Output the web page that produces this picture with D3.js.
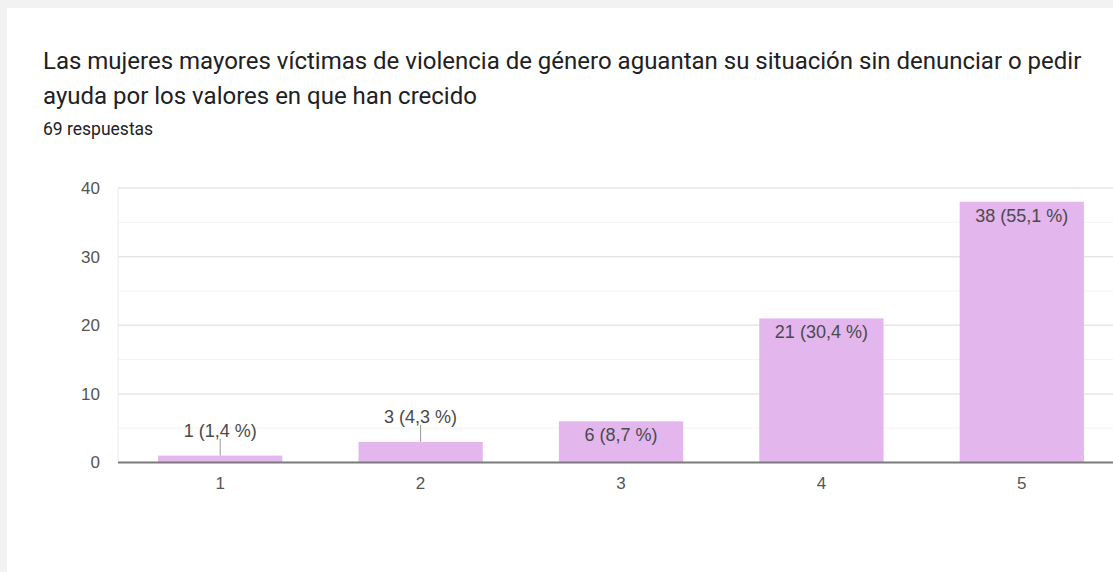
<!DOCTYPE html>
<html>
<head>
<meta charset="utf-8">
<script src="https://cdn.jsdelivr.net/npm/d3@7"></script>
<style>
  body { margin: 0; background: #f2f2f2; }
  svg { display: block; }
</style>
</head>
<body>
<svg width="1113" height="572"></svg>
<script>
const titleLines = [
  "Las mujeres mayores víctimas de violencia de género aguantan su situación sin denunciar o pedir",
  "ayuda por los valores en que han crecido"
];
const subtitle = "69 respuestas";
const categories = ["1", "2", "3", "4", "5"];
const counts = [1, 3, 6, 21, 38];
const percents = ["1,4", "4,3", "8,7", "30,4", "55,1"];
const yTicks = [0, 10, 20, 30, 40];
const minorTicks = [5, 15, 25, 35];

const svg = d3.select("svg");
const width = 1113;
const height = 572;

const data = categories.map((c, i) => ({ cat: c, value: counts[i], pct: percents[i] }));

// page background + white card
svg.append("rect").attr("width", width).attr("height", height).attr("fill", "#f2f2f2");
svg.append("rect").attr("x", 7).attr("y", 8).attr("width", width - 7).attr("height", height - 8).attr("fill", "#fff");

// title
const title = svg.append("text")
  .attr("font-family", "Roboto, sans-serif")
  .attr("font-size", "24px")
  .attr("fill", "#202124");
titleLines.forEach((line, i) => {
  title.append("tspan").attr("x", 43).attr("y", 69 + i * 35).text(line);
});

svg.append("text")
  .attr("x", 43)
  .attr("y", 135)
  .attr("font-family", "Roboto, sans-serif")
  .attr("font-size", "17.5px")
  .attr("fill", "#202124")
  .text(subtitle);

const plotLeft = 118;
const plotTop = 188;
const plotBottom = 462.5;

const x = d3.scaleBand()
  .domain(categories)
  .range([plotLeft, 1124])
  .paddingInner(0.38)
  .paddingOuter(0.2);

const y = d3.scaleLinear()
  .domain([0, 40])
  .range([plotBottom, plotTop]);

const chartFont = "'Liberation Sans', Arial, sans-serif";

// minor gridlines
svg.append("g").selectAll("line")
  .data(minorTicks)
  .join("line")
  .attr("x1", plotLeft).attr("x2", width)
  .attr("y1", d => y(d)).attr("y2", d => y(d))
  .attr("stroke", "#f3f3f3")
  .attr("stroke-width", 1);

// major gridlines
svg.append("g").selectAll("line")
  .data(yTicks.filter(d => d > 0))
  .join("line")
  .attr("x1", plotLeft).attr("x2", width)
  .attr("y1", d => y(d)).attr("y2", d => y(d))
  .attr("stroke", "#e6e6e6")
  .attr("stroke-width", 1.5);

// left border of the grid
svg.append("line")
  .attr("x1", plotLeft).attr("x2", plotLeft)
  .attr("y1", plotTop).attr("y2", plotBottom)
  .attr("stroke", "#ececec");

// y axis labels
const yAxis = svg.append("g")
  .attr("transform", `translate(${plotLeft - 18},0)`)
  .call(d3.axisLeft(y).tickValues(yTicks).tickSize(0).tickPadding(0));
yAxis.select(".domain").remove();
yAxis.selectAll("text")
  .attr("font-family", chartFont)
  .attr("font-size", "17px")
  .attr("fill", "#555");

// bars
svg.append("g").selectAll("rect")
  .data(data)
  .join("rect")
  .attr("x", d => x(d.cat))
  .attr("width", x.bandwidth())
  .attr("y", d => y(d.value))
  .attr("height", d => y(0) - y(d.value))
  .attr("fill", "#e3b6ee");

// baseline
svg.append("line")
  .attr("x1", plotLeft).attr("x2", width)
  .attr("y1", y(0)).attr("y2", y(0))
  .attr("stroke", "#7b7b7b")
  .attr("stroke-width", 2);

// x axis labels
const xAxis = svg.append("g")
  .attr("transform", `translate(0,${y(0) + 14})`)
  .call(d3.axisBottom(x).tickSize(0).tickPadding(0));
xAxis.select(".domain").remove();
xAxis.selectAll("text")
  .attr("font-family", chartFont)
  .attr("font-size", "17px")
  .attr("fill", "#555");

// value labels: inside tall bars, above short bars with a leader line
const inside = d => y(0) - y(d.value) > 30;

svg.append("g").selectAll("line")
  .data(data.filter(d => !inside(d)))
  .join("line")
  .attr("x1", d => x(d.cat) + x.bandwidth() / 2)
  .attr("x2", d => x(d.cat) + x.bandwidth() / 2)
  .attr("y1", d => y(d.value))
  .attr("y2", d => y(d.value) - 17)
  .attr("stroke", "#999")
  .attr("stroke-width", 1);

svg.append("g").selectAll("text")
  .data(data)
  .join("text")
  .attr("x", d => x(d.cat) + x.bandwidth() / 2)
  .attr("y", d => inside(d) ? y(d.value) + 20 : y(d.value) - 19)
  .attr("text-anchor", "middle")
  .attr("font-family", chartFont)
  .attr("font-size", "18px")
  .attr("fill", "#4a4a4a")
  .text(d => `${d.value} (${d.pct} %)`);
</script>
</body>
</html>
